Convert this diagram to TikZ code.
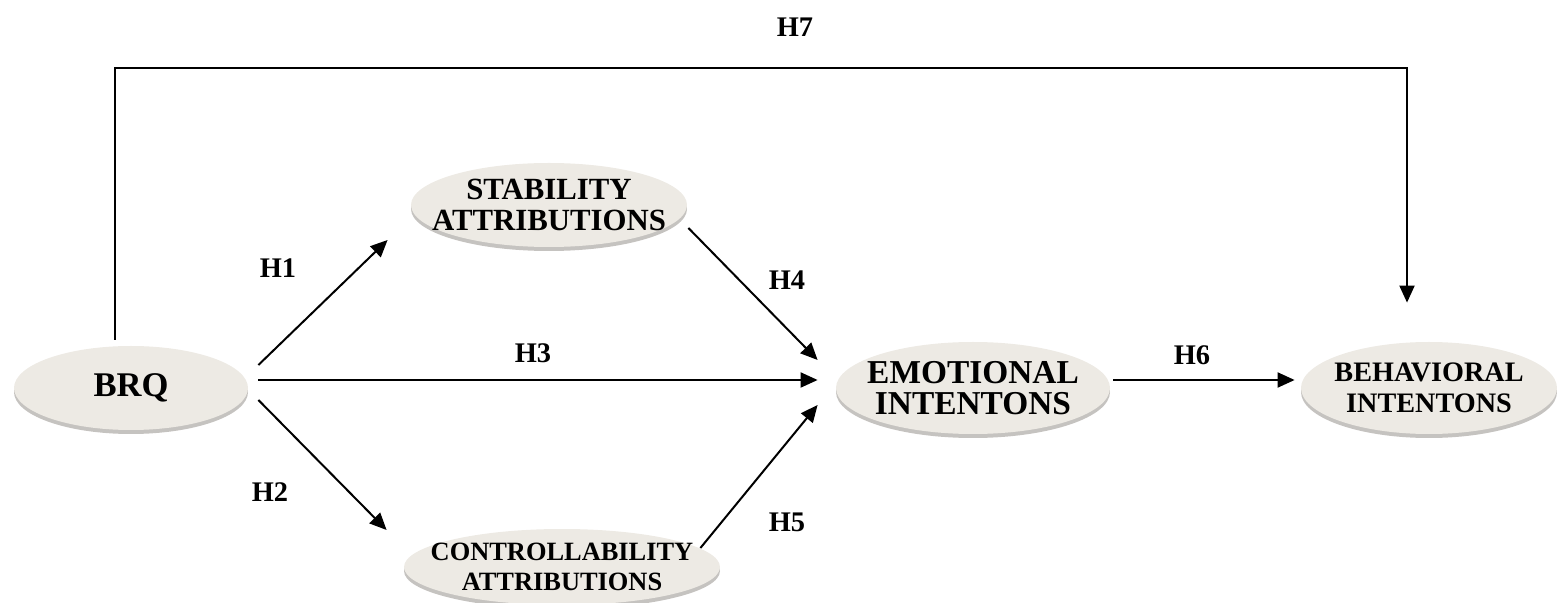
\documentclass[tikz,border=0pt]{standalone}
\usepackage{fontspec}
\setmainfont{Liberation Serif}
\usetikzlibrary{arrows.meta,shapes.geometric,calc,shadows}
\definecolor{oval}{RGB}{237,234,228}
\definecolor{ovalshade}{RGB}{150,146,140}
\begin{document}
\begin{tikzpicture}[x=0.5pt,y=-0.5pt,
  construct/.style={ellipse, fill=oval, inner sep=0pt,
    drop shadow={shadow xshift=0pt, shadow yshift=-2pt, opacity=.55, fill=ovalshade}},
  caption/.style={align=center, inner sep=0pt,
    font=\fontsize{#1}{15.3}\selectfont\bfseries},
  hyp/.style={font=\fontsize{14.2}{16}\selectfont\bfseries},
  path/.style={line width=1pt, -{Triangle[length=8.5pt,width=7.5pt]}}]
\useasboundingbox (0,0) rectangle (1557,603);

% constructs: the oval is sized on its own, the caption sits at its centre
\node[construct, minimum width=117pt, minimum height=42pt,
  label={[caption=17.3]center:BRQ}] (brq) at (131,388) {};
\node[construct, minimum width=138pt, minimum height=42pt,
  label={[caption=15.4]center:{STABILITY\\ATTRIBUTIONS}}] (stab) at (549,205) {};
\node[construct, minimum width=158pt, minimum height=38pt,
  label={[caption=13.2]center:{CONTROLLABILITY\\ATTRIBUTIONS}}] (ctrl) at (562,567) {};
\node[construct, minimum width=137pt, minimum height=46pt,
  label={[caption=16.7]center:{EMOTIONAL\\INTENTONS}}] (emo) at (973,388) {};
\node[construct, minimum width=128pt, minimum height=46pt,
  label={[caption=14.1]center:{BEHAVIORAL\\INTENTONS}}] (beh) at (1429,388) {};

% hypothesised paths
\draw[path] ($(brq.east)+(10,-23)$) -- ($(stab.west)+(-23,35)$);
\draw[path] ($(brq.east)+(10,-8)$) -- ($(emo.west)+(-18,-8)$);
\draw[path] ($(brq.east)+(10,12)$) -- ($(ctrl.west)+(-17,-37)$);
\draw[path] ($(stab.east)+(1,23)$) -- ($(emo.west)+(-18,-28)$);
\draw[path] ($(ctrl.east)+(-20,-19)$) -- ($(emo.west)+(-18,17)$);
\draw[path] ($(emo.east)+(3,-8)$) -- ($(beh.west)+(-6,-8)$);
\draw[path] ($(brq.north)+(-16,-6)$) |- (115,68) -| ($(beh.north)+(-22,-39)$);

% labels
\node[hyp] (h7) at (795,27) {H7};
\node[hyp] (h1) at (278,268) {H1};
\node[hyp] (h4) at (787,280) {H4};
\node[hyp] (h3) at (533,353) {H3};
\node[hyp] (h6) at (1192,355) {H6};
\node[hyp] (h2) at (270,492) {H2};
\node[hyp] (h5) at (787,522) {H5};
\end{tikzpicture}
\end{document}
